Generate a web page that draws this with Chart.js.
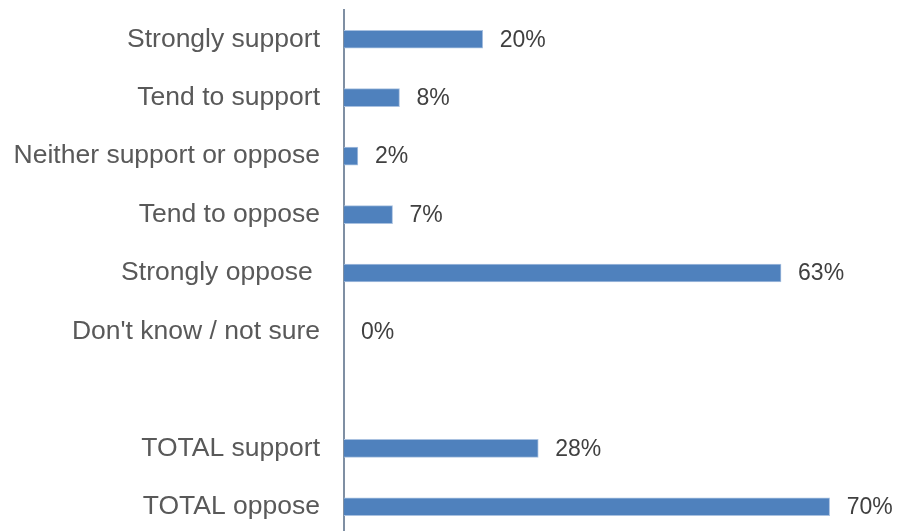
<!DOCTYPE html>
<html>
<head>
<meta charset="utf-8">
<title>Support and opposition</title>
<script src="https://cdn.jsdelivr.net/npm/chart.js@4/dist/chart.umd.min.js"></script>
<style>
  html, body { margin: 0; padding: 0; background: #ffffff; overflow: hidden; }
  #wrap { width: 901px; height: 531px; overflow: hidden; }
  canvas { display: block; }
</style>
</head>
<body>
<div id="wrap"><canvas id="chart" width="901" height="540"></canvas></div>
<script>
// Response categories (empty slot separates the detailed answers from the totals)
const categories = [
  'Strongly support',
  'Tend to support',
  'Neither support or oppose',
  'Tend to oppose',
  'Strongly oppose ',
  "Don't know / not sure",
  '',
  'TOTAL support',
  'TOTAL oppose'
];

// Share of respondents, in percent
const shares = [20, 8, 2, 7, 63, 0, null, 28, 70];

// Value labels printed at the end of each bar
const valueLabels = ['20%', '8%', '2%', '7%', '63%', '0%', '', '28%', '70%'];

const LABEL_FONT = '"Liberation Sans", Arial, sans-serif';

// Draws the percentage text just beyond each bar's end
const valueLabelPlugin = {
  id: 'valueLabels',
  afterDatasetsDraw(chart) {
    const ctx = chart.ctx;
    const meta = chart.getDatasetMeta(0);
    const xScale = chart.scales.x;
    ctx.save();
    ctx.font = '23px ' + LABEL_FONT;
    ctx.fillStyle = '#404040';
    ctx.textAlign = 'left';
    ctx.textBaseline = 'middle';
    meta.data.forEach((bar, i) => {
      const v = shares[i];
      if (v === null || valueLabels[i] === '') return;
      const xEnd = xScale.getPixelForValue(v);
      ctx.fillText(valueLabels[i], xEnd + 17, bar.y + 1);
    });
    ctx.restore();
  }
};

new Chart(document.getElementById('chart'), {
  type: 'bar',
  data: {
    labels: categories,
    datasets: [{
      data: shares,
      backgroundColor: '#4f81bd',
      borderColor: '#a9c1e0',
      borderWidth: 1,
      borderSkipped: 'left',
      barThickness: 18
    }]
  },
  options: {
    indexAxis: 'y',
    responsive: false,
    animation: false,
    devicePixelRatio: 1,
    layout: { padding: { top: 10, bottom: 4, left: 0, right: 2 } },
    plugins: {
      legend: { display: false },
      tooltip: { enabled: false }
    },
    scales: {
      x: {
        min: 0,
        max: 80,
        display: false,
        grid: { display: false }
      },
      y: {
        grid: { display: false, drawTicks: false },
        border: { display: true, color: '#7f8fa3', width: 2 },
        ticks: {
          padding: 24,
          color: '#595959',
          font: { family: LABEL_FONT, size: 26.5 }
        },
        afterFit(scale) {
          scale.width = 344;
          scale.paddingTop = 0;
          scale.paddingBottom = 0;
        }
      }
    }
  },
  plugins: [valueLabelPlugin]
});
</script>
</body>
</html>
